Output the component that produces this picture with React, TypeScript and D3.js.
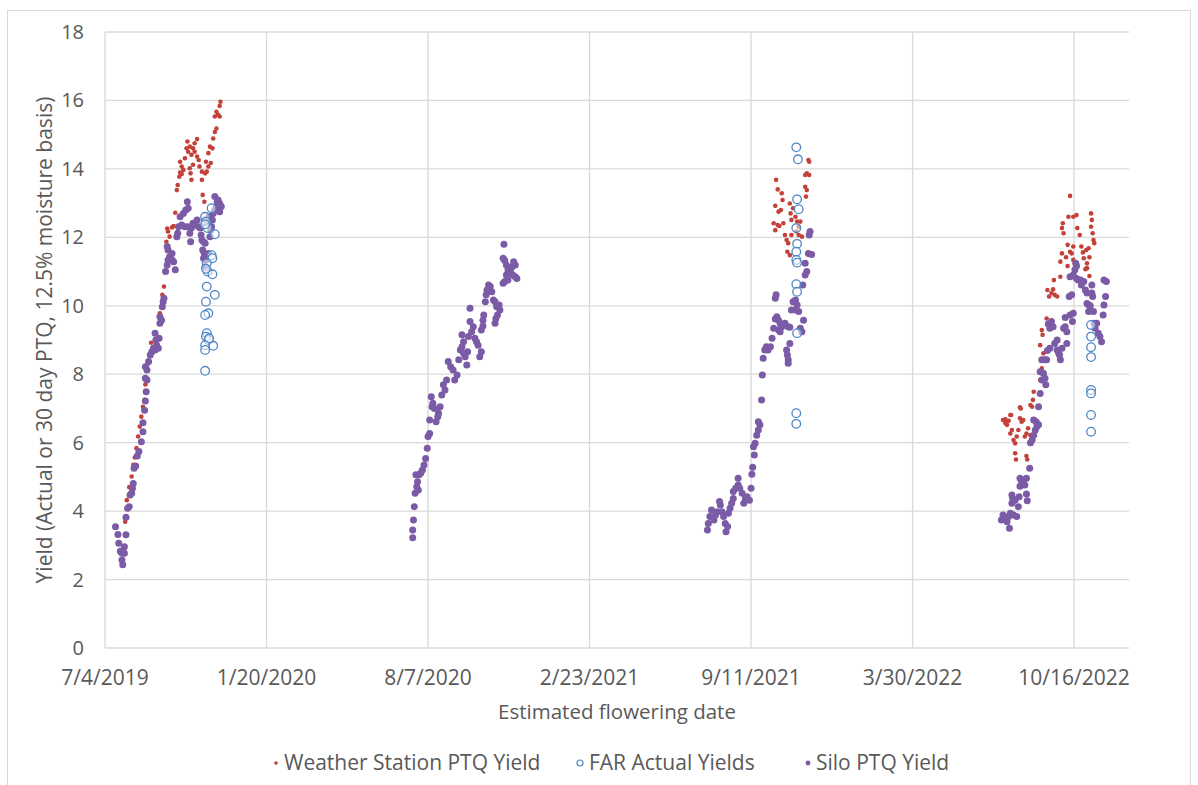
import React from "react";
import * as d3 from "d3";

// Dates are stored as day offsets from START (7/4/2019); values are yield (t/ha)
const START = new Date(2019, 6, 4);
const X_MAX_DAYS = 1268;
const X_TICK_DAYS = [0, 200, 400, 600, 800, 1000, 1200];
const Y_TICKS = [0, 2, 4, 6, 8, 10, 12, 14, 16, 18];

const weather2019: [number, number][] = [
  [25, 3.69], [27, 4.32], [30, 4.7], [33, 5.01], [35, 5.35], [37, 5.57], [39, 5.84], [41, 6.18], [43, 6.47],
  [45, 6.76], [47, 7.05], [49, 7.25], [50, 7.7], [53, 8.3], [57, 8.92], [59, 8.76], [68, 9.78], [71, 10.32],
  [73, 10.56], [87, 12.72], [77, 12.26], [78, 12.17], [80, 12.02], [83, 12.29], [85, 12.33], [76, 11.87],
  [89, 13.38], [90, 13.53], [92, 13.77], [93, 13.89], [95, 13.85], [97, 13.97], [95, 14.07], [93, 14.21],
  [99, 14.31], [101, 14.6], [102, 14.8], [105, 14.65], [103, 14.5], [107, 14.41], [109, 14.6], [111, 14.75],
  [114, 14.87], [111, 14.5], [114, 14.36], [105, 14.02], [106, 13.87], [107, 13.68], [116, 14.26], [117, 14.07],
  [109, 14.12], [120, 13.92], [120, 13.68], [121, 13.24], [123, 13.04], [124, 13.87], [126, 13.92], [128, 14.07],
  [125, 14.21], [128, 14.46], [131, 14.17], [130, 14.65], [133, 14.6], [134, 14.89], [136, 15.08], [138, 15.18],
  [136, 15.53], [138, 15.67], [140, 15.58], [142, 15.84], [143, 15.96], [142, 15.53],
];

const weather2021: [number, number][] = [
  [831, 13.68], [833, 13.4], [838, 13.29], [839, 13.09], [830, 12.92], [834, 12.75], [837, 12.8], [828, 12.41],
  [830, 12.21], [833, 12.36], [835, 12.33], [840, 12.41], [848, 12.99], [849, 12.7], [852, 12.85], [850, 12.51],
  [855, 12.6], [857, 12.46], [861, 12.46], [859, 12.31], [842, 12.07], [844, 11.92], [846, 11.83], [845, 11.58],
  [848, 11.48], [850, 12.07], [856, 12.17], [859, 12.07], [863, 12.02], [867, 13.82], [869, 13.87], [872, 13.82],
  [867, 13.48], [869, 13.38], [868, 13.19], [871, 14.26], [872, 14.21],
];

const weather2022: [number, number][] = [
  [1112, 6.66], [1115, 6.57], [1117, 6.52], [1119, 6.64], [1121, 6.27], [1123, 6.37], [1125, 6.08], [1127, 5.98],
  [1129, 6.18], [1131, 6.37], [1133, 6.71], [1135, 6.61], [1137, 6.66], [1139, 6.18], [1141, 6.27], [1143, 6.42],
  [1122, 6.81], [1133, 7.03], [1127, 5.69], [1128, 5.51], [1141, 5.61], [1142, 5.51], [1146, 6.22], [1148, 7.05],
  [1160, 9.29], [1161, 9.15], [1158, 8.85], [1162, 8.61], [1160, 8.17], [1158, 7.83], [1150, 7.49], [1149, 7.25],
  [1146, 7.1], [1134, 7.0], [1121, 6.81], [1115, 6.68], [1166, 9.63], [1167, 10.46], [1169, 10.27], [1172, 10.37],
  [1174, 10.48], [1176, 10.32], [1179, 10.27], [1175, 10.75], [1183, 10.85], [1183, 11.29], [1185, 11.53],
  [1190, 11.42], [1192, 11.16], [1197, 11.53], [1199, 11.34], [1185, 12.27], [1187, 12.12], [1186, 12.41],
  [1193, 12.6], [1199, 12.6], [1203, 12.65], [1195, 13.21], [1204, 12.27], [1207, 12.07], [1192, 11.78],
  [1195, 11.58], [1199, 11.73], [1209, 11.73], [1211, 11.56], [1215, 11.63], [1218, 11.68], [1212, 11.39],
  [1216, 11.24], [1219, 11.42], [1216, 11.1], [1221, 12.7], [1222, 12.51], [1221, 12.31], [1223, 12.12],
  [1224, 11.92], [1225, 11.83], [1219, 10.87], [1214, 11.07],
];

const far2019: [number, number][] = [
  [124, 12.6], [125, 12.46], [132, 12.85], [127, 12.27], [136, 12.09], [132, 11.48], [133, 11.39], [126, 11.24],
  [127, 11.0], [133, 10.92], [126, 10.56], [136, 10.32], [125, 10.12], [128, 9.78], [124, 9.73], [126, 9.2],
  [125, 9.1], [128, 9.0], [124, 8.85], [134, 8.83], [124, 8.71], [129, 9.05], [124, 8.1], [125, 11.08], [124, 12.38],
];

const far2021: [number, number][] = [
  [856, 14.63], [858, 14.28], [857, 13.11], [859, 12.82], [856, 12.27], [857, 11.81], [856, 11.58], [856, 11.34],
  [857, 11.26], [856, 10.63], [857, 10.41], [857, 9.2], [856, 6.86], [856, 6.55],
];

const far2022: [number, number][] = [
  [1221, 9.44], [1221, 9.1], [1221, 8.79], [1221, 8.5], [1221, 7.54], [1221, 7.44], [1221, 6.81], [1221, 6.32],
];

const silo2019: [number, number][] = [
  [13, 3.54], [16, 3.32], [17, 3.06], [19, 2.83], [21, 2.77], [21, 2.57], [22, 2.43], [24, 2.77], [24, 2.96],
  [26, 3.31], [26, 3.82], [28, 4.08], [30, 4.13], [31, 4.47], [33, 4.52], [34, 4.67], [35, 4.81], [36, 5.25],
  [38, 5.32], [40, 5.61], [42, 5.74], [45, 6.03], [47, 6.32], [47, 6.58], [49, 6.95], [50, 7.22], [51, 7.49],
  [52, 7.83], [50, 7.88], [52, 8.12], [50, 8.22], [54, 8.37], [56, 8.56], [58, 8.66], [60, 8.76], [62, 8.71],
  [64, 8.85], [66, 8.76], [63, 9.0], [67, 9.05], [62, 9.2], [68, 9.49], [70, 9.58], [68, 9.68], [71, 9.97],
  [72, 10.12], [73, 10.22], [75, 11.0], [77, 11.19], [78, 11.34], [80, 11.43], [83, 11.34], [85, 11.29],
  [87, 11.05], [83, 11.53], [78, 11.63], [77, 11.73], [89, 12.02], [90, 12.12], [91, 12.31], [95, 12.36],
  [99, 12.31], [103, 12.31], [107, 12.27], [105, 12.12], [106, 11.87], [109, 12.41], [114, 12.51], [111, 12.36],
  [116, 12.31], [118, 12.27], [97, 12.7], [100, 12.8], [102, 13.04], [103, 12.85], [93, 12.6], [119, 12.07],
  [120, 11.92], [122, 11.87], [124, 11.83], [121, 11.63], [123, 11.53], [122, 11.39], [125, 11.34], [124, 11.14],
  [126, 11.1], [128, 11.53], [130, 12.02], [131, 12.21], [132, 12.31], [133, 12.51], [134, 12.7], [136, 12.8],
  [138, 12.9], [139, 13.04], [140, 13.09], [142, 12.99], [144, 12.9], [136, 13.19], [142, 12.75], [127, 12.41],
  [129, 12.6], [125, 12.51],
];

const silo2020: [number, number][] = [
  [381, 3.22], [381, 3.45], [382, 3.74], [383, 4.13], [384, 4.52], [386, 4.71], [388, 4.62], [387, 4.86],
  [385, 5.06], [389, 5.06], [391, 5.11], [393, 5.2], [395, 5.35], [397, 5.54], [399, 5.84], [400, 6.18],
  [402, 6.27], [402, 6.66], [405, 7.05], [404, 7.34], [406, 7.15], [408, 7.0], [410, 6.61], [412, 6.76],
  [413, 6.86], [415, 7.05], [417, 7.39], [419, 7.69], [421, 7.54], [423, 7.83], [425, 8.37], [428, 8.22],
  [431, 8.12], [433, 7.83], [436, 7.98], [438, 8.42], [440, 8.71], [442, 8.8], [444, 8.61], [446, 8.51],
  [448, 8.27], [449, 8.66], [442, 9.15], [444, 8.95], [450, 9.1], [452, 9.54], [452, 9.93], [454, 9.24],
  [456, 9.39], [458, 9.05], [460, 8.95], [462, 8.85], [464, 8.51], [466, 8.66], [466, 9.29], [468, 9.58],
  [469, 9.73], [471, 10.12], [472, 10.32], [473, 10.46], [475, 10.61], [477, 10.56], [479, 10.41], [481, 10.17],
  [483, 10.12], [485, 9.97], [486, 9.73], [484, 9.63], [483, 9.49], [488, 10.02], [489, 9.88], [493, 10.66],
  [495, 10.71], [497, 10.9], [499, 11.05], [502, 11.0], [504, 11.14], [506, 11.29], [508, 11.19], [508, 10.85],
  [510, 10.8], [505, 10.9], [499, 10.75], [493, 11.39], [495, 11.32], [494, 11.8], [497, 11.19], [468, 9.41],
];

const silo2021: [number, number][] = [
  [746, 3.45], [747, 3.64], [749, 3.84], [751, 4.03], [754, 3.74], [756, 3.89], [758, 3.98], [761, 4.28],
  [762, 4.18], [764, 3.98], [766, 3.84], [768, 3.64], [769, 3.4], [771, 3.55], [772, 3.94], [774, 4.08],
  [776, 4.23], [778, 4.37], [778, 4.57], [781, 4.67], [784, 4.76], [784, 4.96], [786, 4.67], [789, 4.52],
  [791, 4.23], [793, 4.37], [795, 4.42], [798, 4.32], [800, 4.67], [801, 5.08], [802, 5.28], [804, 5.64],
  [803, 5.88], [805, 5.98], [807, 6.22], [809, 6.37], [811, 6.52], [809, 6.61], [813, 7.25], [814, 7.98],
  [815, 8.47], [817, 8.71], [819, 8.8], [821, 8.71], [824, 8.8], [826, 9.05], [828, 9.34], [830, 9.61],
  [832, 9.68], [834, 9.58], [836, 9.49], [838, 9.39], [834, 9.29], [836, 9.24], [830, 10.22], [831, 10.32],
  [842, 9.49], [846, 9.39], [848, 9.37], [844, 8.71], [845, 8.56], [846, 8.42], [846, 8.32], [848, 8.9],
  [850, 9.88], [852, 10.12], [855, 10.17], [857, 10.02], [855, 9.88], [859, 9.83], [861, 9.34], [863, 9.24],
  [865, 9.58], [864, 10.61], [867, 10.9], [869, 11.0], [867, 11.24], [871, 11.53], [875, 11.5], [872, 12.07],
  [873, 12.17],
];

const silo2022: [number, number][] = [
  [1110, 3.74], [1112, 3.89], [1115, 3.79], [1117, 3.69], [1120, 3.5], [1119, 3.84], [1121, 3.94], [1125, 3.89],
  [1129, 3.84], [1131, 4.13], [1123, 4.23], [1124, 4.37], [1123, 4.47], [1127, 4.32], [1132, 4.42], [1141, 4.5],
  [1142, 4.3], [1133, 4.73], [1135, 4.86], [1133, 4.96], [1137, 4.91], [1139, 4.76], [1141, 4.96], [1145, 5.25],
  [1146, 6.0], [1148, 6.08], [1150, 6.22], [1152, 6.37], [1154, 6.47], [1153, 6.61], [1156, 6.52], [1150, 6.66],
  [1156, 7.05], [1158, 7.44], [1160, 7.83], [1158, 8.07], [1162, 8.03], [1164, 7.88], [1165, 7.69], [1160, 8.42],
  [1164, 8.42], [1166, 8.42], [1167, 8.69], [1170, 8.76], [1176, 8.9], [1179, 8.71], [1181, 8.61], [1183, 8.42],
  [1182, 8.56], [1179, 9.0], [1185, 8.76], [1168, 9.47], [1170, 9.34], [1172, 9.54], [1174, 9.39], [1187, 9.34],
  [1189, 9.39], [1191, 9.24], [1191, 8.9], [1189, 9.66], [1195, 9.73], [1198, 9.54], [1199, 9.78], [1194, 10.27],
  [1197, 10.32], [1195, 10.85], [1199, 10.9], [1201, 11.05], [1203, 11.16], [1203, 10.8], [1205, 10.75],
  [1202, 11.24], [1208, 10.75], [1209, 10.61], [1212, 10.71], [1214, 10.46], [1216, 10.37], [1216, 10.07],
  [1218, 10.02], [1218, 9.83], [1222, 10.61], [1222, 10.37], [1223, 10.27], [1224, 9.83], [1225, 9.49],
  [1228, 9.49], [1226, 9.34], [1230, 9.2], [1232, 9.1], [1234, 8.95], [1237, 10.75], [1240, 10.71], [1239, 10.27],
  [1237, 10.02], [1236, 9.73], [1220, 10.0],
];

const weatherSeries = [...weather2019, ...weather2021, ...weather2022];
const farSeries = [...far2019, ...far2021, ...far2022];
const siloSeries = [...silo2019, ...silo2020, ...silo2021, ...silo2022];

const LEGEND = ["Weather Station PTQ Yield", "FAR Actual Yields", "Silo PTQ Yield"];

const RED = "#C4413A";
const BLUE = "#4F86C6";
const PURPLE = "#7B5BA6";
const GRID = "#D9D9D9";
const TEXT = "#595959";
const FONT = "'Open Sans', 'Noto Sans', sans-serif";

export default function App() {
  const W = 1198;
  const H = 785;
  const left = 105, right = 1129, top = 32, bottom = 648;
  const day = (d: number) => d3.timeDay.offset(START, d);
  const x = d3.scaleTime().domain([START, day(X_MAX_DAYS)]).range([left, right]);
  const y = d3.scaleLinear().domain([0, 18]).range([bottom, top]);
  const fmt = d3.timeFormat("%-m/%-d/%Y");

  return (
    <svg width={W} height={H} style={{ position: "absolute", left: 0, top: 0, background: "#fff" }} fontFamily={FONT}>
      <rect x={0} y={0} width={W} height={H} fill="#fff" />
      <rect x={7.5} y={10.5} width={1183} height={790} fill="none" stroke="#D9D9D9" strokeWidth={1} />
      {Y_TICKS.map((t) => (
        <g key={"y" + t}>
          <line x1={left} x2={right} y1={y(t)} y2={y(t)} stroke={GRID} strokeWidth={1.3} />
          <text x={84} y={y(t)} dy="0.35em" textAnchor="end" fontSize={20} fill={TEXT}>{t}</text>
        </g>
      ))}
      {X_TICK_DAYS.map((d) => (
        <g key={"x" + d}>
          <line x1={x(day(d))} x2={x(day(d))} y1={top} y2={bottom} stroke={GRID} strokeWidth={1.3} />
          <text x={x(day(d))} y={678} dy="0.35em" textAnchor="middle" fontSize={21} fill={TEXT}>{fmt(day(d))}</text>
        </g>
      ))}
      <text x={(left + right) / 2} y={712} dy="0.35em" textAnchor="middle" fontSize={20.5} fill={TEXT}>Estimated flowering date</text>
      <text transform={`translate(45,${(top + bottom) / 2}) rotate(-90)`} dy="0.35em" textAnchor="middle" fontSize={21} fill={TEXT}>
        Yield (Actual or 30 day PTQ, 12.5% moisture basis)
      </text>
      <g>
        {weatherSeries.map((p, i) => (
          <circle key={"w" + i} cx={x(day(p[0]))} cy={y(p[1])} r={2.3} fill={RED} />
        ))}
      </g>
      <g>
        {siloSeries.map((p, i) => (
          <circle key={"s" + i} cx={x(day(p[0]))} cy={y(p[1])} r={3.5} fill={PURPLE} />
        ))}
      </g>
      <g>
        {farSeries.map((p, i) => (
          <circle key={"f" + i} cx={x(day(p[0]))} cy={y(p[1])} r={4.3} fill="#fff" fillOpacity={0.5} stroke={BLUE} strokeWidth={1.3} />
        ))}
      </g>
      <g fontSize={21} fill={TEXT}>
        <circle cx={276} cy={763} r={1.8} fill={RED} />
        <text x={284} y={763} dy="0.35em">{LEGEND[0]}</text>
        <circle cx={580} cy={763} r={3} fill="#fff" stroke={BLUE} strokeWidth={1.2} />
        <text x={589} y={763} dy="0.35em">{LEGEND[1]}</text>
        <circle cx={808} cy={763} r={2.4} fill={PURPLE} />
        <text x={816} y={763} dy="0.35em">{LEGEND[2]}</text>
      </g>
    </svg>
  );
}
